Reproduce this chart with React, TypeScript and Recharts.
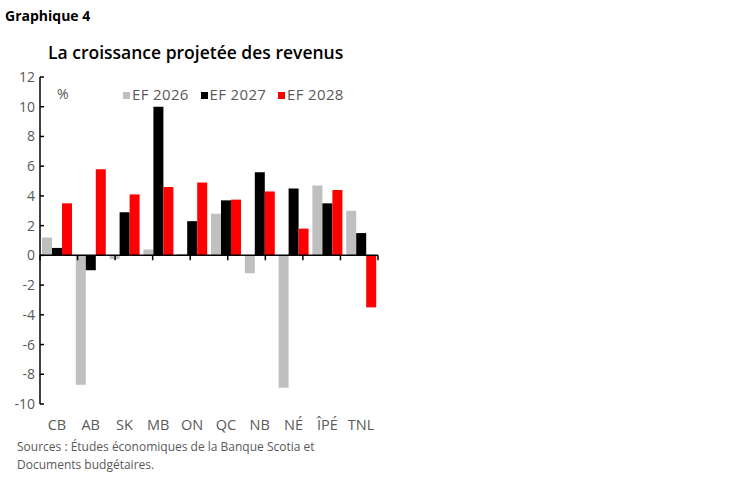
import React from 'react';
import { BarChart, Bar, XAxis, YAxis, ReferenceLine, Legend } from 'recharts';

const categories = ['CB', 'AB', 'SK', 'MB', 'ON', 'QC', 'NB', 'NÉ', 'ÎPÉ', 'TNL'];
const ef2026 = [1.2, -8.7, -0.25, 0.4, 0.1, 2.8, -1.2, -8.9, 4.7, 3.0];
const ef2027 = [0.5, -1.0, 2.9, 10.0, 2.3, 3.7, 5.6, 4.5, 3.5, 1.5];
const ef2028 = [3.5, 5.8, 4.1, 4.6, 4.9, 3.75, 4.3, 1.8, 4.4, -3.5];
const yTicks = [-10, -8, -6, -4, -2, 0, 2, 4, 6, 8, 10, 12];
const seriesNames = ['EF 2026', 'EF 2027', 'EF 2028'];
const seriesColors = ['#BFBFBF', '#000000', '#FF0000'];

const data = categories.map((c, i) => ({
  cat: c,
  s0: ef2026[i],
  s1: ef2027[i],
  s2: ef2028[i],
}));
const boundaries = categories.map((_, i) => i).concat([categories.length]);

const FONT = '"Open Sans", sans-serif';
const TEXT_GRAY = '#595959';

const LegendContent = (props: any) => {
  const payload = props.payload || [];
  return (
    <div style={{ display: 'flex', fontFamily: FONT, fontSize: 15, letterSpacing: 0.35, color: TEXT_GRAY, lineHeight: '20px', whiteSpace: 'nowrap' }}>
      {payload.map((p: any, i: number) => (
        <div key={i} style={{ display: 'flex', alignItems: 'center', width: i < payload.length - 1 ? 77.5 : 'auto' }}>
          <span style={{ display: 'inline-block', width: 7, height: 7, background: p.color, marginRight: 2, marginTop: 2 }} />
          <span>{p.value}</span>
        </div>
      ))}
    </div>
  );
};

export default function App() {
  return (
    <div style={{ position: 'absolute', left: 0, top: 0, width: 749, height: 482, background: '#fff' }}>
      <svg width={749} height={482} style={{ position: 'absolute', left: 0, top: 0 }}>
        <text x={5} y={21} fontFamily={FONT} fontWeight={700} fontSize={14} fill="#000">Graphique 4</text>
        <text x={48} y={59} fontFamily={FONT} fontWeight={600} fontSize={17.5} fill="#000">La croissance projetée des revenus</text>
        <text x={57} y={98.5} fontFamily={FONT} fontSize={14} fill={TEXT_GRAY}>%</text>
        <text x={17} y={451} fontFamily={FONT} fontSize={12} fill={TEXT_GRAY}>Sources : Études économiques de la Banque Scotia et</text>
        <text x={17} y={469} fontFamily={FONT} fontSize={12} fill={TEXT_GRAY}>Documents budgétaires.</text>
      </svg>
      <div style={{ position: 'absolute', left: 0, top: 0 }}>
        <BarChart
          width={749}
          height={482}
          data={data}
          margin={{ top: 77, right: 371, bottom: 48, left: 0 }}
          barCategoryGap={2}
          barGap={0}
        >
          <XAxis
            dataKey="cat"
            axisLine={false}
            tickLine={false}
            tickSize={0}
            tickMargin={16}
            height={30}
            interval={0}
            tick={{ fill: TEXT_GRAY, fontSize: 14.5, fontFamily: FONT }}
          />
          <XAxis xAxisId="grid" type="number" domain={[0, categories.length]} hide />
          <YAxis
            domain={[-10, 12]}
            ticks={yTicks}
            interval={0}
            width={40}
            axisLine={{ stroke: '#000', strokeWidth: 1.5 }}
            tickLine={{ stroke: '#000', strokeWidth: 1.5 }}
            tickSize={-4}
            tickMargin={9}
            tick={{ fill: TEXT_GRAY, fontSize: 14, fontFamily: FONT }}
          />
          <Legend
            layout="horizontal"
            verticalAlign="middle"
            align="center"
            wrapperStyle={{ top: 84, left: 123, width: 'auto' }}
            content={<LegendContent />}
          />
          {seriesNames.map((n, i) => (
            <Bar key={n} dataKey={'s' + i} name={n} fill={seriesColors[i]} isAnimationActive={false} />
          ))}
          <ReferenceLine y={0} stroke="#000" strokeWidth={1.5} />
          {boundaries.map((b) => (
            <ReferenceLine
              key={'b' + b}
              xAxisId="grid"
              segment={[{ x: b, y: 0 }, { x: b, y: -0.33 }]}
              stroke="#000"
              strokeWidth={1.5}
            />
          ))}
        </BarChart>
      </div>
    </div>
  );
}
